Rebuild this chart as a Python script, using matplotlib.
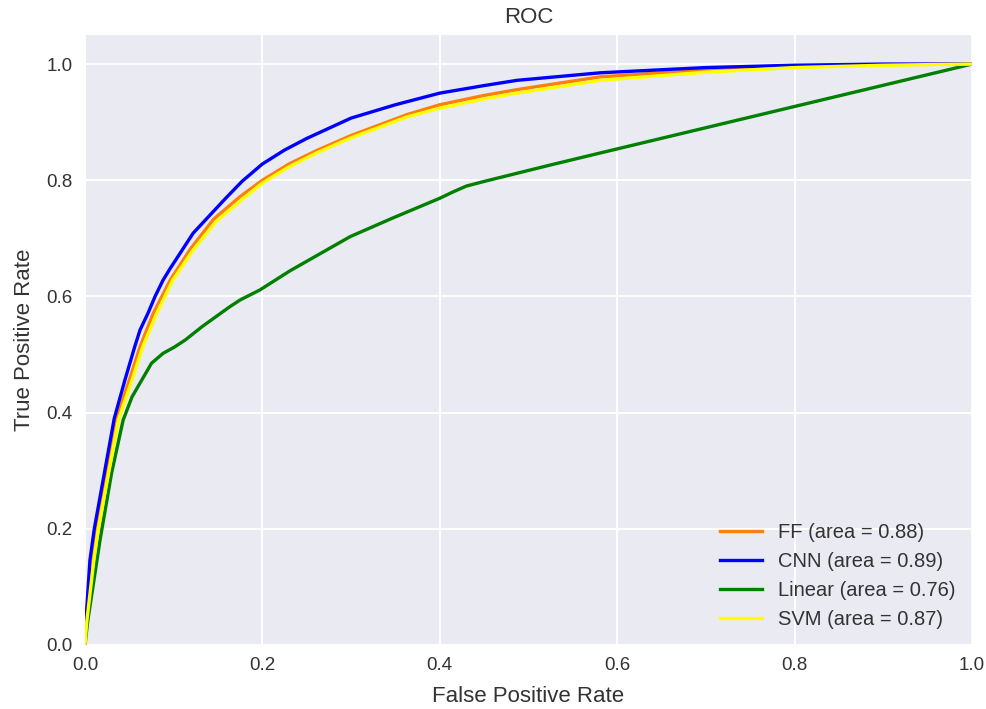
import matplotlib
matplotlib.use("Agg")
import matplotlib.pyplot as plt

# Data
cnn_fpr = [0.0, 0.001, 0.0056, 0.0105, 0.033, 0.045, 0.056, 0.062, 0.071, 0.079, 0.088, 0.096, 0.122, 0.158, 0.177, 0.2, 0.225, 0.25, 0.3, 0.35, 0.4, 0.45, 0.487, 0.581, 0.7, 0.8, 0.9, 1.0]
cnn_tpr = [0.0, 0.04, 0.146, 0.200, 0.390, 0.456, 0.513, 0.542, 0.571, 0.600, 0.628, 0.648, 0.709, 0.768, 0.798, 0.828, 0.852, 0.872, 0.907, 0.930, 0.950, 0.963, 0.972, 0.985, 0.994, 0.998, 1.0, 1.0]

ff_fpr = [0.0, 0.002, 0.009, 0.0135, 0.035, 0.050, 0.062, 0.077, 0.096, 0.119, 0.145, 0.175, 0.2, 0.23, 0.261, 0.3, 0.363, 0.4, 0.45, 0.487, 0.581, 0.7, 0.8, 0.9, 1.0]
ff_tpr = [0.0, 0.045, 0.146, 0.200, 0.387, 0.456, 0.513, 0.571, 0.628, 0.682, 0.733, 0.772, 0.800, 0.828, 0.851, 0.877, 0.913, 0.930, 0.946, 0.956, 0.978, 0.990, 0.996, 0.999, 1.0]

svm_fpr = [0.0, 0.002, 0.010, 0.015, 0.0376, 0.053, 0.065, 0.081, 0.099, 0.122, 0.148, 0.178, 0.2, 0.23, 0.261, 0.3, 0.363, 0.4, 0.45, 0.487, 0.581, 0.7, 0.8, 0.9, 1.0]
svm_tpr = [0.0, 0.04, 0.146, 0.200, 0.387, 0.456, 0.513, 0.571, 0.628, 0.680, 0.729, 0.768, 0.795, 0.823, 0.847, 0.873, 0.909, 0.924, 0.940, 0.950, 0.972, 0.986, 0.994, 0.998, 1.0]

lin_fpr = [0.0, 0.003, 0.017, 0.030, 0.043, 0.053, 0.064, 0.075, 0.088, 0.101, 0.113, 0.132, 0.163, 0.175, 0.197, 0.231, 0.299, 0.347, 0.4, 0.415, 0.43, 0.45, 0.487, 0.524, 0.581, 0.8, 1.0]
lin_tpr = [0.0, 0.04, 0.181, 0.296, 0.387, 0.427, 0.456, 0.485, 0.502, 0.513, 0.525, 0.548, 0.582, 0.594, 0.611, 0.644, 0.703, 0.735, 0.769, 0.780, 0.790, 0.798, 0.812, 0.826, 0.847, 0.927, 1.0]

labels = ["FF (area = 0.88)", "CNN (area = 0.89)", "Linear (area = 0.76)", "SVM (area = 0.87)"]
colors = ["#ff7f0e", "blue", "green", "yellow"]

xticks = [0.0, 0.2, 0.4, 0.6, 0.8, 1.0]
yticks = [0.0, 0.2, 0.4, 0.6, 0.8, 1.0]

plt.rcParams['font.family'] = ['Liberation Sans', 'DejaVu Sans']
text_color = "#333333"

fig = plt.figure(figsize=(9.87, 7.09), dpi=100)
ax = fig.add_axes([0.0861, 0.0903, 0.8987, 0.8603])
ax.set_facecolor("#EAEAF2")
for s in ax.spines.values():
    s.set_visible(False)
ax.grid(True, color="white", linewidth=1.4)
ax.set_axisbelow(True)

series = [(ff_fpr, ff_tpr), (cnn_fpr, cnn_tpr), (lin_fpr, lin_tpr), (svm_fpr, svm_tpr)]
for (fx, fy), lab, c in zip(series, labels, colors):
    ax.plot(fx, fy, color=c, lw=2.4, label=lab, solid_joinstyle="round")

ax.set_xlim(0, 1)
ax.set_ylim(0, 1.05)
ax.set_xticks(xticks)
ax.set_yticks(yticks)
ax.set_xticklabels([f"{v:.1f}" for v in xticks])
ax.set_yticklabels([f"{v:.1f}" for v in yticks])
ax.tick_params(length=0, labelsize=13.5, colors=text_color, pad=9)
ax.set_xlabel("False Positive Rate", fontsize=16, color=text_color, labelpad=8)
ax.set_ylabel("True Positive Rate", fontsize=16, color=text_color, labelpad=8)
ax.set_title("ROC", fontsize=16, color=text_color, pad=9)
leg = ax.legend(loc="lower right", frameon=False, fontsize=14.5, handlelength=2.1,
                borderaxespad=0.4)
for t in leg.get_texts():
    t.set_color(text_color)

fig.savefig("out.png", dpi=100)
